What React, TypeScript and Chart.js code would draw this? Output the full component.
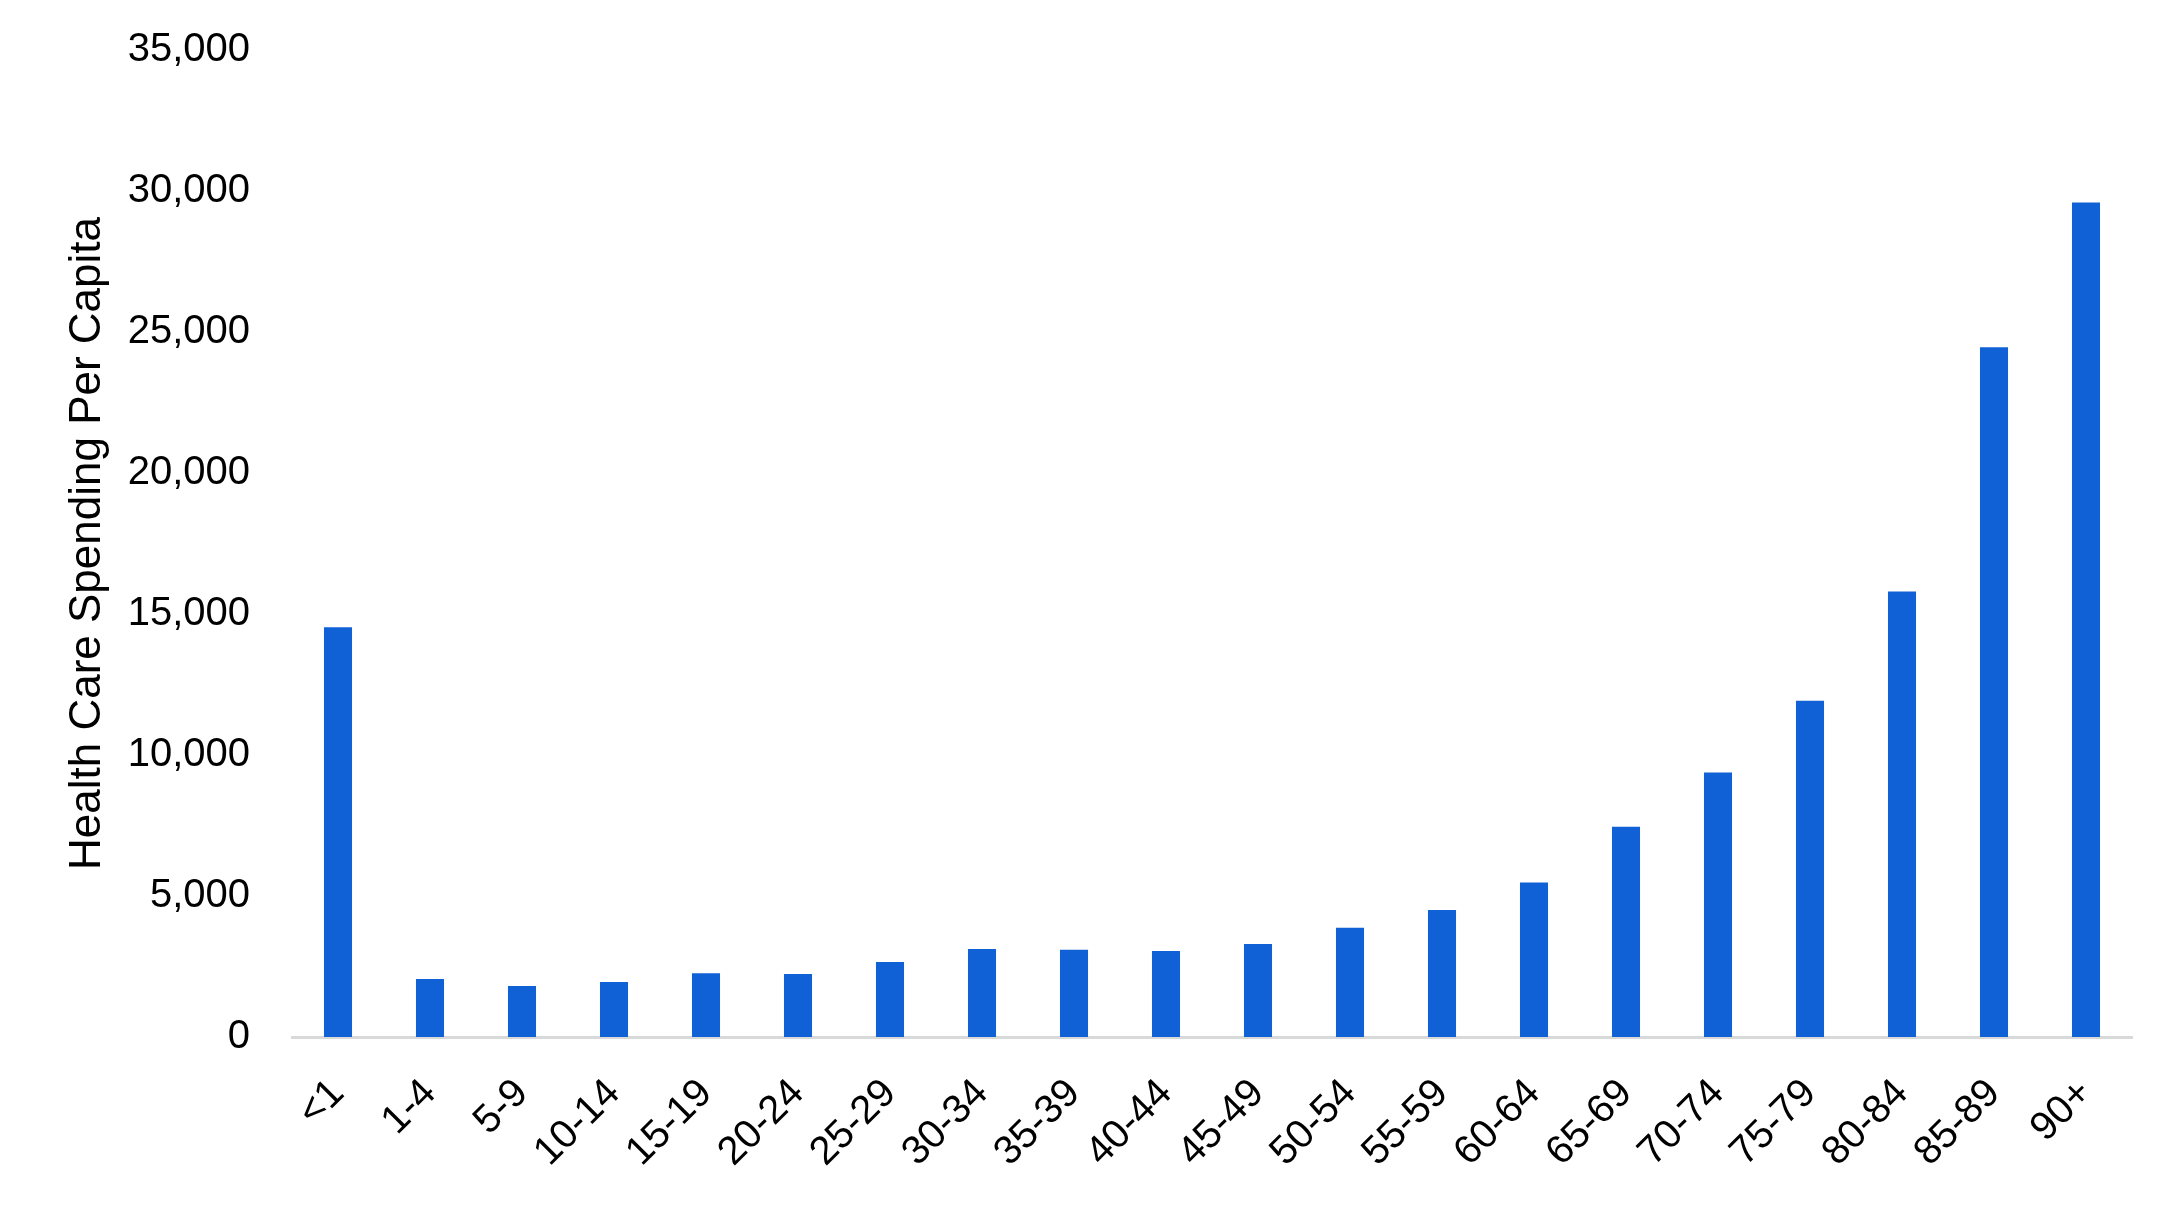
import React, { useEffect, useRef } from "react";
import { Chart, registerables } from "chart.js";

Chart.register(...registerables);

const categories = ["<1", "1-4", "5-9", "10-14", "15-19", "20-24", "25-29", "30-34", "35-39", "40-44", "45-49", "50-54", "55-59", "60-64", "65-69", "70-74", "75-79", "80-84", "85-89", "90+"];
const spending = [14530, 2060, 1810, 1950, 2260, 2230, 2660, 3120, 3090, 3050, 3300, 3870, 4500, 5480, 7460, 9380, 11920, 15800, 24460, 29590];
const yTickMax = 35000;
const yTickStep = 5000;
const yTitle = "Health Care Spending Per Capita";

const FONT = "'Liberation Sans', Arial, Helvetica, sans-serif";

export default function App() {
  const ref = useRef<HTMLCanvasElement | null>(null);

  useEffect(() => {
    document.body.style.margin = "0";
    document.documentElement.style.overflow = "hidden";
    const canvas = ref.current;
    if (!canvas) return;
    const chart = new Chart(canvas, {
      type: "bar",
      data: {
        labels: categories,
        datasets: [
          {
            data: spending,
            backgroundColor: "#1061D5",
            borderWidth: 0,
            categoryPercentage: 1,
            barPercentage: 0.305,
          },
        ],
      },
      options: {
        responsive: false,
        animation: false,
        devicePixelRatio: 1,
        layout: { padding: { top: 0, right: 49, bottom: 0, left: 0 } },
        plugins: { legend: { display: false }, tooltip: { enabled: false } },
        scales: {
          x: {
            grid: { display: false, drawTicks: false },
            border: { display: true, color: "#D9D9D9", width: 3 },
            ticks: {
              color: "#000",
              font: { family: FONT, size: 40 },
              minRotation: 45,
              maxRotation: 45,
              padding: 33,
              autoSkip: false,
            },
            afterFit: (scale: any) => {
              scale.height = 168;
            },
          },
          y: {
            min: 0,
            max: yTickMax,
            grid: { display: false, drawTicks: false },
            border: { display: false },
            ticks: {
              stepSize: yTickStep,
              color: "#000",
              font: { family: FONT, size: 40 },
              padding: 42,
              callback: (v: any) => Number(v).toLocaleString("en-US"),
            },
            title: {
              display: true,
              text: yTitle,
              color: "#000",
              font: { family: FONT, size: 44 },
              padding: { top: 61, bottom: 0 },
            },
            afterFit: (scale: any) => {
              scale.width = 292;
              scale.paddingTop = 50;
              scale.paddingBottom = 0;
            },
          },
        },
      },
    });
    return () => chart.destroy();
  }, []);

  return <canvas ref={ref} width={2181} height={1205} style={{ display: "block" }} />;
}
